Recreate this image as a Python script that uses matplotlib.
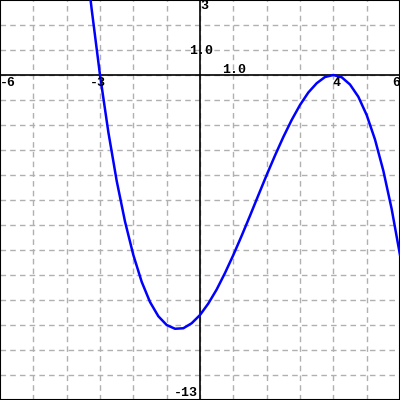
import matplotlib
matplotlib.use("Agg")
import matplotlib.pyplot as plt

# points
xs = [-3.3, -3.25, -3.0, -2.75, -2.5, -2.25, -2.0, -1.75, -1.5, -1.25, -1.0,
      -0.75, -0.5, -0.25, 0.0, 0.25, 0.5, 0.75, 1.0, 1.25, 1.5, 1.75, 2.0,
      2.25, 2.5, 2.75, 3.0, 3.25, 3.5, 3.75, 4.0, 4.25, 4.5, 4.75, 5.0,
      5.25, 5.5, 5.75, 6.0]
ys = [3.2, 2.63, 0.0, -2.28, -4.23, -5.86, -7.2, -8.27, -9.08, -9.65, -10.0,
      -10.15, -10.13, -9.93, -9.6, -9.14, -8.58, -7.92, -7.2, -6.43, -5.63,
      -4.81, -4.0, -3.22, -2.48, -1.8, -1.2, -0.7, -0.33, -0.08, 0.0, -0.09,
      -0.38, -0.87, -1.6, -2.58, -3.83, -5.36, -7.2]

x_min, x_max = -6, 6
y_min, y_max = -13, 3

fig = plt.figure(figsize=(4, 4), dpi=100)
ax = fig.add_axes([0, 0, 1, 1])
ax.set_xlim(x_min, x_max)
ax.set_ylim(y_min, y_max)

# dashed grid
for gx in range(x_min + 1, x_max):
    ax.axvline(gx, color="#b0b0b0", lw=1, ls=(0, (4, 3)), zorder=1)
for gy in range(y_min + 1, y_max):
    ax.axhline(gy, color="#b0b0b0", lw=1, ls=(0, (4, 3)), zorder=1)

ax.axhline(0, color="black", lw=1.2, zorder=2)
ax.axvline(0, color="black", lw=1.2, zorder=2)

ax.plot(xs, ys, color="#0000ff", lw=1.8, zorder=3)

font = dict(family="Liberation Mono", weight="bold", fontsize=9.5, color="black")
ax.text(-6, -0.1, "-6", ha="left", va="top", **font)
ax.text(-3.05, -0.1, "-3", ha="center", va="top", **font)
ax.text(3.98, -0.1, "4", ha="left", va="top", **font)
ax.text(6.0, -0.1, "6", ha="right", va="top", **font)
ax.text(0.66, -0.05, "1.0", ha="left", va="bottom", **font)
ax.text(0.0, 3.0, "3", ha="left", va="top", **font)
ax.text(-0.32, 0.95, "1.0", ha="left", va="center", **font)
ax.text(-0.05, -12.95, "-13", ha="right", va="bottom", **font)

ax.set_xticks([])
ax.set_yticks([])
for s in ax.spines.values():
    s.set_color("black")
    s.set_linewidth(1.5)

fig.savefig("out.png", dpi=100)
